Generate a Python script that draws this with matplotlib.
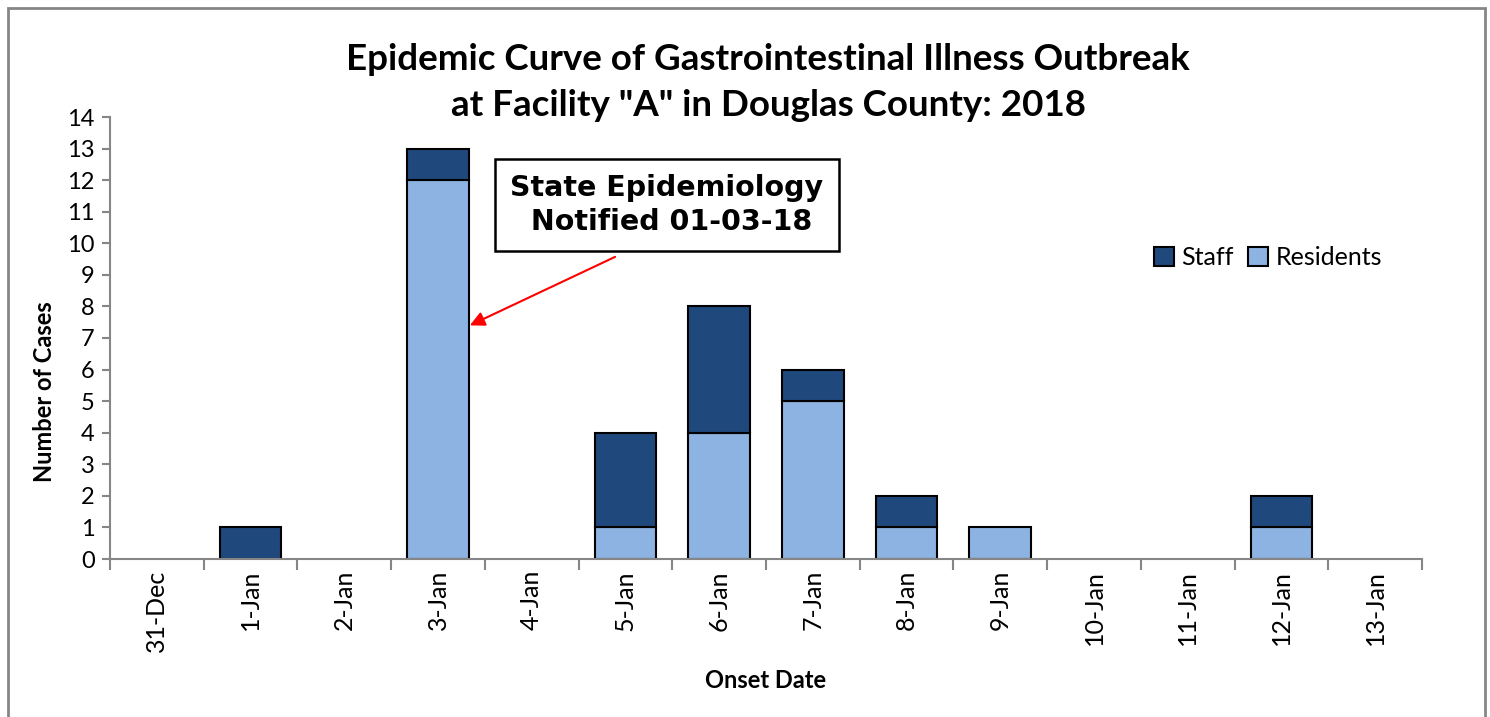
import matplotlib

matplotlib.use("Agg")

import matplotlib.pyplot as plt
from matplotlib.patches import Patch, Rectangle

# onset dates and case counts per day
dates = ["31-Dec", "1-Jan", "2-Jan", "3-Jan", "4-Jan", "5-Jan", "6-Jan",
         "7-Jan", "8-Jan", "9-Jan", "10-Jan", "11-Jan", "12-Jan", "13-Jan"]
residents = [0, 0, 0, 12, 0, 1, 4, 5, 1, 1, 0, 0, 1, 0]
staff = [0, 1, 0, 1, 0, 3, 4, 1, 1, 0, 0, 0, 1, 0]

STAFF_COLOR = "#1F497D"
RESIDENT_COLOR = "#8DB3E2"
AXIS_GRAY = "#868686"

plt.rcParams["font.family"] = ["Lato", "DejaVu Sans"]

fig = plt.figure(figsize=(14.9, 7.17), dpi=100)
ax = fig.add_axes([110 / 1490, 1 - 559 / 717, (1422 - 110) / 1490, (559 - 117) / 717])

x = list(range(len(dates)))


def _edges(values):
    # no outline for empty segments
    return ["black" if v > 0 else "none" for v in values]


ax.bar(x, residents, width=0.66, color=RESIDENT_COLOR, edgecolor=_edges(residents),
       linewidth=1.5, zorder=2)
ax.bar(x, staff, width=0.66, bottom=residents, color=STAFF_COLOR, edgecolor=_edges(staff),
       linewidth=1.5, zorder=2)

ax.set_xlim(-0.5, len(dates) - 0.5)
ax.set_ylim(0, 14)
ax.set_yticks(range(0, 15))
ax.tick_params(axis="y", labelsize=17, length=6, color=AXIS_GRAY, width=1.5, pad=5)

# ticks between categories, labels centred under the bars
ax.set_xticks([i - 0.5 for i in range(len(dates) + 1)])
ax.set_xticklabels([])
ax.set_xticks(x, minor=True)
ax.set_xticklabels(dates, minor=True, rotation=90, fontsize=18)
ax.tick_params(axis="x", which="major", length=8, color=AXIS_GRAY, width=1.5)
ax.tick_params(axis="x", which="minor", length=0, pad=8)

for side in ("top", "right"):
    ax.spines[side].set_visible(False)
for side in ("left", "bottom"):
    ax.spines[side].set_color(AXIS_GRAY)
    ax.spines[side].set_linewidth(1.5)

ax.set_ylabel("Number of Cases", fontsize=17, fontweight="bold")
ax.yaxis.set_label_coords(-54 / 1312, (559 - 392) / 442)
ax.set_xlabel("Onset Date", fontsize=17, fontweight="bold")
ax.xaxis.set_label_coords(0.5, -(669 - 559) / 442)

fig.text(768 / 1490, 1 - 60 / 717, "Epidemic Curve of Gastrointestinal Illness Outbreak",
         ha="center", va="center", fontsize=26.5, fontweight="bold")
fig.text(768 / 1490, 1 - 105 / 717, "at Facility \"A\" in Douglas County: 2018",
         ha="center", va="center", fontsize=26.5, fontweight="bold")

ax.annotate("", xy=(3.34, 7.4), xytext=(4.89, 9.57),
            arrowprops=dict(arrowstyle="-|>", color="red", lw=1.5,
                            mutation_scale=22, shrinkA=0, shrinkB=0))
ax.text(667 / 1490, 1 - 205 / 717, "State Epidemiology\n Notified 01-03-18",
        transform=fig.transFigure, fontsize=20.5, fontweight="bold", family="DejaVu Sans",
        ha="center", va="center", linespacing=1.25,
        bbox=dict(boxstyle="square,pad=0.55", facecolor="white", edgecolor="black", linewidth=1.8))

legend_handles = [
    Patch(facecolor=STAFF_COLOR, edgecolor="black", linewidth=1.5, label="Staff"),
    Patch(facecolor=RESIDENT_COLOR, edgecolor="black", linewidth=1.5, label="Residents"),
]
fig.legend(handles=legend_handles, loc="center", ncol=2,
           bbox_to_anchor=(1268 / 1490, 1 - 258 / 717), frameon=False,
           fontsize=18, handlelength=0.8, handleheight=0.8,
           handletextpad=0.3, columnspacing=0.6)

# gray frame around the chart area
fig.add_artist(Rectangle((8 / 1490, -0.05), (1485 - 8) / 1490, 1.05 - 8 / 717,
                         transform=fig.transFigure, fill=False,
                         edgecolor=AXIS_GRAY, linewidth=2))

fig.savefig("out.png", dpi=100)
